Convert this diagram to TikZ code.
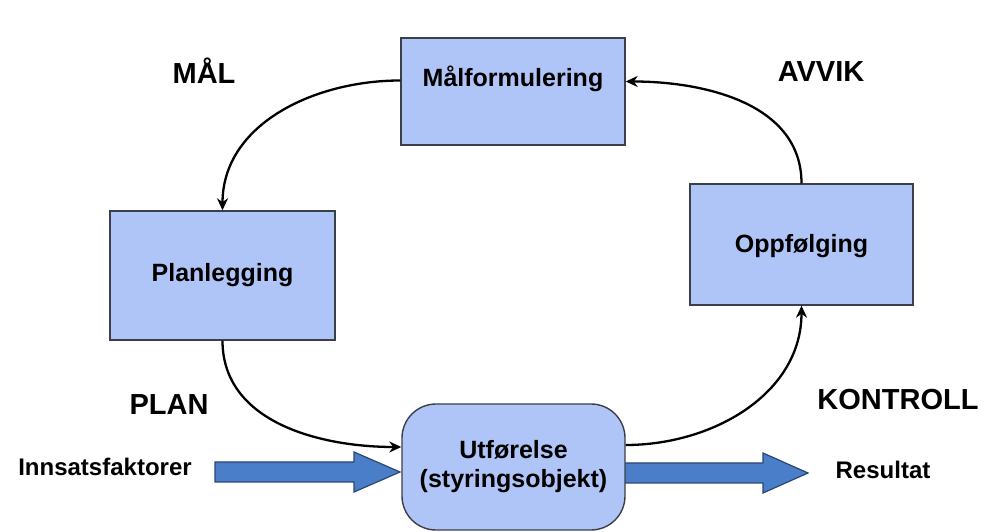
\documentclass[tikz,border=0pt]{standalone}
\usepackage{fontspec}
\setmainfont{Liberation Sans}
\usetikzlibrary{arrows.meta,calc}
\definecolor{boxfill}{HTML}{B0C5F7}
\definecolor{boxline}{HTML}{3A3F4A}
\definecolor{fatfill}{HTML}{4B7EC8}
\definecolor{fatline}{HTML}{2A4674}
\tikzset{
  stagebox/.style={draw=boxline, fill=boxfill, line width=1.4pt, align=center,
    font=\fontsize{25}{29}\selectfont\bfseries, inner sep=0pt},
  phase/.style={font=\fontsize{29}{33}\selectfont\bfseries, inner sep=0pt},
  flowtext/.style={font=\fontsize{24}{28}\selectfont\bfseries, inner sep=0pt},
  cycle/.style={draw=black, line width=2.3pt, -{Stealth[length=12pt,width=11pt]}},
  fatarrow/.style={fill=fatfill, draw=fatline, line width=1.2pt, line join=miter},
}
\begin{document}
\begin{tikzpicture}[x=1pt,y=1pt]
\useasboundingbox (0,0) rectangle (990,532);

% broad input / output arrows (behind the boxes)
\coordinate (intail) at (215,60);
\coordinate (intip) at (400,60);
\coordinate (outtail) at (620,59);
\coordinate (outtip) at (808,59);
\draw[fatarrow] ([yshift=10pt]intail) -- ([yshift=10pt,xshift=-46pt]intip)
  -- ([yshift=20pt,xshift=-46pt]intip) -- (intip)
  -- ([yshift=-20pt,xshift=-46pt]intip) -- ([yshift=-10pt,xshift=-46pt]intip)
  -- ([yshift=-10pt]intail) -- cycle;
\draw[fatarrow] ([yshift=10pt]outtail) -- ([yshift=10pt,xshift=-45pt]outtip)
  -- ([yshift=20pt,xshift=-45pt]outtip) -- (outtip)
  -- ([yshift=-20pt,xshift=-45pt]outtip) -- ([yshift=-10pt,xshift=-45pt]outtip)
  -- ([yshift=-10pt]outtail) -- cycle;

% stage boxes
\node[stagebox, minimum width=224pt, minimum height=107pt,
      text height=18pt, text depth=28pt] (mal) at (513,440.5) {Målformulering};
\node[stagebox, minimum width=225pt, minimum height=129pt] (plan) at (222.5,256.5) {Planlegging};
\node[stagebox, minimum width=223pt, minimum height=121pt,
      text height=18pt, text depth=2pt] (opp) at (801.5,287.5) {Oppfølging};
\node[stagebox, minimum width=223pt, minimum height=126pt, rounded corners=34pt]
      (utf) at (513.5,65) {Utførelse\\(styringsobjekt)};

% control cycle
\draw[cycle] ([yshift=11pt]mal.west) to[out=180,in=90] (plan.north);
\draw[cycle] (plan.south) to[out=-90,in=180] ([yshift=20pt]utf.west);
\draw[cycle] ([yshift=22pt]utf.east) to[out=0,in=-90] (opp.south);
\draw[cycle] (opp.north) to[out=90,in=0] ([yshift=10pt]mal.east);

% phase labels
\node[phase] (lmal) at (204,461) {MÅL};
\node[phase] (lavvik) at (821,460) {AVVIK};
\node[phase] (lplan) at (169,127) {PLAN};
\node[phase] (lkontroll) at (898,132) {KONTROLL};

% inputs and outputs
\node[flowtext] (inn) at (105,65) {Innsatsfaktorer};
\node[flowtext] (res) at (883,62) {Resultat};
\end{tikzpicture}
\end{document}
